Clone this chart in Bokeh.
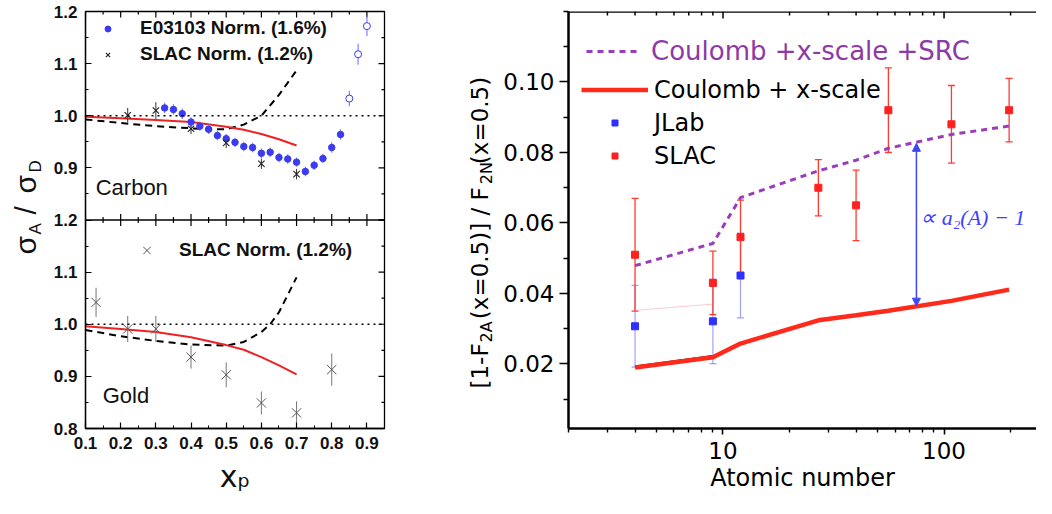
from math import pi
from bokeh.plotting import figure
from bokeh.layouts import row
from bokeh.models import (Range1d, FixedTicker, NumeralTickFormatter,
                          Span, Legend, LegendItem, Whisker, TeeHead, Arrow, NormalHead,
                          ColumnDataSource)
from bokeh.embed import file_html
from bokeh.resources import INLINE
from bokeh.core.properties import value

# ---------------- data: left panels (sigma_A / sigma_D vs x_p) ----------------
xp_major = [0.1, 0.2, 0.3, 0.4, 0.5, 0.6, 0.7, 0.8, 0.9]
xp_minor = [0.15, 0.25, 0.35, 0.45, 0.55, 0.65, 0.75, 0.85]
ratio_major = [0.8, 0.9, 1.0, 1.1, 1.2]
ratio_minor = [0.85, 0.95, 1.05, 1.15]
ratio_labels = ["0.8", "0.9", "1.0", "1.1", "1.2"]

carbon_e03103_x = [0.325, 0.35, 0.375, 0.40, 0.425, 0.45, 0.475, 0.50, 0.525, 0.55, 0.575,
                   0.60, 0.625, 0.65, 0.675, 0.70, 0.725, 0.75, 0.775, 0.80, 0.825]
carbon_e03103_y = [1.015, 1.012, 1.004, 0.988, 0.980, 0.974, 0.962, 0.956, 0.949, 0.941, 0.939,
                   0.928, 0.930, 0.920, 0.917, 0.911, 0.893, 0.905, 0.918, 0.939, 0.964]
carbon_e03103_err = [0.010, 0.010, 0.010, 0.009, 0.009, 0.009, 0.009, 0.009, 0.009, 0.009, 0.009,
                     0.009, 0.009, 0.009, 0.009, 0.009, 0.009, 0.009, 0.009, 0.010, 0.010]
carbon_e03103_open_x = [0.85, 0.875, 0.90]
carbon_e03103_open_y = [1.033, 1.118, 1.172]
carbon_e03103_open_err = [0.015, 0.020, 0.019]
carbon_slac_x = [0.22, 0.30, 0.40, 0.50, 0.60, 0.70]
carbon_slac_y = [1.001, 1.010, 0.975, 0.948, 0.908, 0.888]
carbon_slac_err = [0.014, 0.016, 0.010, 0.010, 0.010, 0.010]
carbon_curve_x = [0.1, 0.2, 0.3, 0.4, 0.5, 0.55, 0.6, 0.65, 0.7]
carbon_curve_y = [0.998, 0.995, 0.992, 0.988, 0.979, 0.973, 0.965, 0.955, 0.943]
carbon_dash_x = [0.1, 0.2, 0.3, 0.4, 0.45, 0.5, 0.55, 0.6, 0.65, 0.7]
carbon_dash_y = [0.993, 0.986, 0.980, 0.976, 0.974, 0.974, 0.983, 1.000, 1.040, 1.087]

gold_slac_x = [0.13, 0.22, 0.30, 0.40, 0.50, 0.60, 0.70, 0.80]
gold_slac_y = [1.042, 0.991, 0.991, 0.937, 0.903, 0.849, 0.830, 0.913]
gold_slac_err = [0.028, 0.025, 0.025, 0.022, 0.024, 0.022, 0.022, 0.031]
gold_curve_x = [0.1, 0.2, 0.3, 0.4, 0.5, 0.55, 0.6, 0.65, 0.7]
gold_curve_y = [0.996, 0.991, 0.985, 0.975, 0.960, 0.951, 0.937, 0.921, 0.904]
gold_dash_x = [0.1, 0.2, 0.3, 0.4, 0.5, 0.55, 0.6, 0.625, 0.65, 0.7]
gold_dash_y = [0.989, 0.977, 0.968, 0.961, 0.959, 0.966, 0.985, 1.000, 1.023, 1.090]

# ---------------- data: right panel ----------------
atomic_major = [10, 100]
atomic_minor = [2, 3, 4, 5, 6, 7, 8, 9, 20, 30, 40, 50, 60, 70, 80, 90, 200]
f2_major = [0.02, 0.04, 0.06, 0.08, 0.10]
f2_minor = [0.01, 0.03, 0.05, 0.07, 0.09, 0.11, 0.12]

slac_A = [4, 9, 12, 27, 40, 56, 108, 197]
slac_F = [0.051, 0.043, 0.056, 0.070, 0.065, 0.092, 0.088, 0.092]
slac_err = [0.016, 0.009, 0.0105, 0.008, 0.010, 0.012, 0.011, 0.009]
jlab_A = [4, 9, 12]
jlab_F = [0.0307, 0.0321, 0.0451]
jlab_err = [0.0116, 0.012, 0.012]
src_A = [4, 9, 12, 27, 40, 56, 108, 197]
src_F = [0.0479, 0.0542, 0.0672, 0.0748, 0.0778, 0.0812, 0.0851, 0.0875]
coul_A = [4, 9, 12, 27, 40, 56, 108, 197]
coul_F = [0.0190, 0.0219, 0.0258, 0.0324, 0.0338, 0.0351, 0.0379, 0.0411]
black_A = [4, 9]
black_F = [0.0194, 0.0224]
pink_A = [4, 9]
pink_F = [0.0352, 0.0370]
arrow_A = 75
arrow_lo = 0.0364
arrow_hi = 0.0826

BLUE = "#3b3bf0"
RED = "#ee2222"
RRED = "#ff2a1a"
PURPLE = "#9a3db8"
ARROW = "#3f48f0"

# layout constants (pixels)
TOP_B = 11
BOT_B = 70
PAGE_H = 498
LEFT_W = 340
LEFT_BL, LEFT_BR = 34, 6
LF_FRAME = PAGE_H - TOP_B - BOT_B
XP_RANGE = (0.1, 0.95)
GOLD_RANGE = (0.8, 1.6)     # gold panel occupies 0.8-1.2 (lower half)
CARBON_RANGE = (0.4, 1.2)   # carbon panel occupies 0.8-1.2 (upper half)


def label_fig(w, h, top=0, bottom=0, xr=None, yr=None):
    f = figure(width=w, height=h, x_range=Range1d(*xr), y_range=Range1d(*yr),
               toolbar_location=None, output_backend="svg",
               min_border_top=top, min_border_bottom=bottom,
               min_border_left=0, min_border_right=0,
               x_axis_location=None, y_axis_location=None)
    f.outline_line_color = None
    f.grid.visible = False
    return f


def style_axis(ax):
    ax.axis_line_width = 1.3
    ax.axis_line_color = "black"
    ax.major_tick_in = 6
    ax.major_tick_out = 0
    ax.minor_tick_in = 3
    ax.minor_tick_out = 0
    ax.major_tick_line_width = 1.2
    ax.minor_tick_line_width = 1.0
    ax.major_label_text_font = "Liberation Sans"
    ax.major_label_text_font_style = "bold"
    ax.major_label_text_font_size = "17px"
    ax.major_label_text_color = "#111111"
    ax.major_label_standoff = 8


# ---------------- left: Carbon (upper) + Gold (lower) sharing one frame ----------------
lf = figure(width=LEFT_W, height=PAGE_H, x_range=Range1d(*XP_RANGE), y_range=Range1d(*GOLD_RANGE),
            toolbar_location=None, output_backend="svg",
            min_border_left=LEFT_BL, min_border_right=LEFT_BR,
            min_border_top=TOP_B, min_border_bottom=BOT_B)
lf.extra_y_ranges = {"carbon": Range1d(*CARBON_RANGE)}
lf.outline_line_color = "black"
lf.outline_line_width = 1.3
lf.grid.visible = False
lf.xaxis.ticker = FixedTicker(ticks=xp_major, minor_ticks=xp_minor)
lf.xaxis.formatter = NumeralTickFormatter(format="0.0")
style_axis(lf.xaxis[0])
lf.xaxis.axis_label = "xₚ"
lf.xaxis.axis_label_text_font = "DejaVu Sans"
lf.xaxis.axis_label_text_font_size = "30px"
lf.xaxis.axis_label_text_font_style = "normal"
lf.xaxis.axis_label_text_color = "#111111"
lf.xaxis.axis_label_standoff = 7
# one left axis: gold ticks 0.8-1.2, carbon ticks (0.9-1.2) sit 0.4 higher on the gold scale
shift = GOLD_RANGE[1] - CARBON_RANGE[1]
carbon_on_gold = [round(t + shift, 6) for t in ratio_major[1:]]
carbon_minor_on_gold = [round(t + shift, 6) for t in ratio_minor]
lf.yaxis.ticker = FixedTicker(ticks=ratio_major + carbon_on_gold,
                              minor_ticks=ratio_minor + carbon_minor_on_gold)
lf.yaxis.major_label_overrides = dict(
    list(zip(ratio_major, ratio_labels)) + list(zip(carbon_on_gold, ratio_labels[1:])))
style_axis(lf.yaxis[0])

# panel boundary and inner ticks
lf.add_layout(Span(location=GOLD_RANGE[0] + (GOLD_RANGE[1] - GOLD_RANGE[0]) / 2, dimension="width",
                   line_color="black", line_width=1.3))
ypx = (GOLD_RANGE[1] - GOLD_RANGE[0]) / LF_FRAME
xpx = (XP_RANGE[1] - XP_RANGE[0]) / (LEFT_W - LEFT_BL - LEFT_BR)
for rng, name in ((GOLD_RANGE, "default"), (CARBON_RANGE, "carbon")):
    for ticks, n in ((xp_major, 6), (xp_minor, 3)):
        lf.segment(x0=ticks, x1=ticks, y0=[1.2] * len(ticks), y1=[1.2 - n * ypx] * len(ticks),
                   line_color="black", line_width=1.2, y_range_name=name)
        if name == "carbon":
            lf.segment(x0=ticks, x1=ticks, y0=[0.8] * len(ticks), y1=[0.8 + n * ypx] * len(ticks),
                       line_color="black", line_width=1.2, y_range_name=name)
    for ticks, n in ((ratio_major, 6), (ratio_minor, 3)):
        lf.segment(x0=[XP_RANGE[1]] * len(ticks), x1=[XP_RANGE[1] - n * xpx] * len(ticks),
                   y0=ticks, y1=ticks, line_color="black", line_width=1.2, y_range_name=name)
    lf.add_layout(Span(location=1.0, dimension="width", line_color="black",
                       line_dash="2 4", line_width=1.3, y_range_name=name))

# Carbon
C = "carbon"
lf.line(carbon_dash_x, carbon_dash_y, line_color="black", line_width=2, line_dash="7 5", y_range_name=C)
lf.line(carbon_curve_x, carbon_curve_y, line_color=RED, line_width=2, y_range_name=C)
lf.segment(x0=carbon_e03103_x, x1=carbon_e03103_x,
           y0=[y - e for y, e in zip(carbon_e03103_y, carbon_e03103_err)],
           y1=[y + e for y, e in zip(carbon_e03103_y, carbon_e03103_err)],
           line_color="#8080ff", line_width=1.2, y_range_name=C)
lf.segment(x0=carbon_e03103_open_x, x1=carbon_e03103_open_x,
           y0=[y - e for y, e in zip(carbon_e03103_open_y, carbon_e03103_open_err)],
           y1=[y + e for y, e in zip(carbon_e03103_open_y, carbon_e03103_open_err)],
           line_color="#8080ff", line_width=1.2, y_range_name=C)
lf.segment(x0=carbon_slac_x, x1=carbon_slac_x,
           y0=[y - e for y, e in zip(carbon_slac_y, carbon_slac_err)],
           y1=[y + e for y, e in zip(carbon_slac_y, carbon_slac_err)],
           line_color="#333333", line_width=1.0, y_range_name=C)
r_ce = lf.scatter(carbon_e03103_x, carbon_e03103_y, marker="circle", size=6.5,
                  fill_color=BLUE, line_color=BLUE, y_range_name=C)
lf.scatter(carbon_e03103_open_x, carbon_e03103_open_y, marker="circle", size=7,
           fill_color="white", line_color=BLUE, line_width=1, y_range_name=C)
r_cs = lf.scatter(carbon_slac_x, carbon_slac_y, marker="x", size=9,
                  line_color="#222222", line_width=1.1, y_range_name=C)
lf.text(x=[0.129], y=[0.862], text=["Carbon"], text_font=value("Liberation Sans"),
        text_font_size="22px", text_baseline="middle", text_align="left", text_color="#111111",
        y_range_name=C)

# Gold
lf.line(gold_dash_x, gold_dash_y, line_color="black", line_width=2, line_dash="7 5")
lf.line(gold_curve_x, gold_curve_y, line_color=RED, line_width=2)
lf.segment(x0=gold_slac_x, x1=gold_slac_x,
           y0=[y - e for y, e in zip(gold_slac_y, gold_slac_err)],
           y1=[y + e for y, e in zip(gold_slac_y, gold_slac_err)],
           line_color="#777777", line_width=1.0)
r_gs = lf.scatter(gold_slac_x, gold_slac_y, marker="x", size=13,
                  line_color="#555555", line_width=1.0)
lf.text(x=[0.149], y=[0.863], text=["Gold"], text_font=value("Liberation Sans"),
        text_font_size="22px", text_baseline="middle", text_align="left", text_color="#111111")

leg_c = Legend(items=[LegendItem(label="E03103 Norm. (1.6%)", renderers=[r_ce]),
                      LegendItem(label="SLAC Norm. (1.2%)", renderers=[r_cs])],
               location=(7, 361), glyph_width=31, glyph_height=15, label_height=26,
               label_standoff=17, spacing=0, padding=0, margin=0,
               border_line_color=None, background_fill_alpha=0,
               label_text_font="Liberation Sans", label_text_font_style="bold",
               label_text_font_size="19px", label_text_color="#111111")
lf.add_layout(leg_c)
leg_g = Legend(items=[LegendItem(label="SLAC Norm. (1.2%)", renderers=[r_gs])],
               location=(46, 165), glyph_width=31, glyph_height=26, label_height=26,
               label_standoff=17, spacing=0, padding=0, margin=0,
               border_line_color=None, background_fill_alpha=0,
               label_text_font="Liberation Sans", label_text_font_style="bold",
               label_text_font_size="19px", label_text_color="#111111")
lf.add_layout(leg_g)

# ---------------- sigma_A / sigma_D label (data y = 498 - page y) ----------------
pl = label_fig(50, PAGE_H, top=TOP_B, bottom=BOT_B, xr=(0, 50), yr=(BOT_B, PAGE_H - TOP_B))
pl.text(x=[25, 25, 25], y=[244, 284, 305], text=["σ", "/", "σ"], angle=pi / 2,
        text_font=value("Liberation Sans"), text_font_size="30px",
        text_baseline="alphabetic", text_align="left", text_color="#111111")
pl.text(x=[35, 35], y=[264, 326], text=["A", "D"], angle=pi / 2,
        text_font=value("Liberation Sans"), text_font_size="17px",
        text_baseline="alphabetic", text_align="left", text_color="#111111")

# ---------------- right y label (local x = page x - 390) ----------------
pr_lab = label_fig(110, PAGE_H, top=TOP_B, bottom=BOT_B, xr=(0, 110), yr=(BOT_B, PAGE_H - TOP_B))
pr_lab.text(x=[89.5, 89.5, 89.5], y=[110, 179.3, 334.3],
            text=["[1-F", "(x=0.5)] / F", "(x=0.5)"], angle=pi / 2,
            text_font=value("DejaVu Sans"), text_font_size="23px",
            text_baseline="alphabetic", text_align="left", text_color="black")
pr_lab.text(x=[95.5, 95.5], y=[156, 314.3], text=["2A", "2N"], angle=pi / 2,
            text_font=value("DejaVu Sans"), text_font_size="16px",
            text_baseline="alphabetic", text_align="left", text_color="black")

# ---------------- right panel ----------------
RX = (2, 262)
RY = (0.0017, 0.12)
rp = figure(width=536, height=PAGE_H, x_axis_type="log", x_range=Range1d(*RX),
            y_range=Range1d(*RY), toolbar_location=None, output_backend="svg",
            min_border_left=68, min_border_right=0, min_border_top=TOP_B, min_border_bottom=BOT_B)
rp.outline_line_color = None
rp.grid.visible = False
rp.xaxis.ticker = FixedTicker(ticks=atomic_major, minor_ticks=atomic_minor)
rp.yaxis.ticker = FixedTicker(ticks=f2_major, minor_ticks=f2_minor)
rp.xaxis.formatter = NumeralTickFormatter(format="0")
rp.yaxis.formatter = NumeralTickFormatter(format="0.00")
for ax in (rp.xaxis[0], rp.yaxis[0]):
    ax.axis_line_width = 2.5
    ax.axis_line_color = "black"
    ax.major_tick_line_width = 1.6
    ax.minor_tick_line_width = 1.4
    ax.major_tick_in = 0
    ax.minor_tick_in = 0
    ax.major_label_text_font = "DejaVu Sans"
    ax.major_label_text_font_size = "23px"
    ax.major_label_text_color = "black"
rp.yaxis.major_tick_out = 9
rp.yaxis.minor_tick_out = 5
rp.yaxis.major_label_standoff = 5
rp.xaxis.major_tick_out = 6
rp.xaxis.minor_tick_out = 4
rp.xaxis.major_label_standoff = 7
rp.xaxis.axis_label = "Atomic number"
rp.xaxis.axis_label_text_font = "DejaVu Sans"
rp.xaxis.axis_label_text_font_size = "24px"
rp.xaxis.axis_label_text_font_style = "normal"
rp.xaxis.axis_label_text_color = "black"
rp.xaxis.axis_label_standoff = 2

r_frame_h = PAGE_H - TOP_B - BOT_B
rpx = (RY[1] - RY[0]) / r_frame_h
rp.add_layout(Span(location=RY[1], dimension="width", line_color="black", line_width=2.5))
for ticks, n in ((atomic_major, 7), (atomic_minor, 4)):
    rp.segment(x0=ticks, x1=ticks, y0=[RY[1]] * len(ticks), y1=[RY[1] - n * rpx] * len(ticks),
               line_color="black", line_width=1.5)

rp.line(pink_A, pink_F, line_color="#f08aa0", line_alpha=0.45, line_width=1)
rp.line(black_A, black_F, line_color="black", line_width=1.2)
r_coul = rp.line(coul_A, coul_F, line_color=RRED, line_width=4.5)
r_src = rp.line(src_A, src_F, line_color=PURPLE, line_width=3, line_dash="6 5")

jsrc = ColumnDataSource(dict(base=jlab_A,
                             lower=[f - e for f, e in zip(jlab_F, jlab_err)],
                             upper=[f + e for f, e in zip(jlab_F, jlab_err)]))
rp.add_layout(Whisker(source=jsrc, base="base", lower="lower", upper="upper",
                      line_color="#7777ff", line_alpha=0.7, line_width=1.2,
                      upper_head=TeeHead(size=7, line_color="#7777ff", line_alpha=0.7, line_width=1.2),
                      lower_head=TeeHead(size=7, line_color="#7777ff", line_alpha=0.7, line_width=1.2)))
ssrc = ColumnDataSource(dict(base=slac_A,
                             lower=[f - e for f, e in zip(slac_F, slac_err)],
                             upper=[f + e for f, e in zip(slac_F, slac_err)]))
rp.add_layout(Whisker(source=ssrc, base="base", lower="lower", upper="upper",
                      line_color="#ff3b30", line_width=1.3,
                      upper_head=TeeHead(size=7, line_color="#ff3b30", line_width=1.3),
                      lower_head=TeeHead(size=7, line_color="#ff3b30", line_width=1.3)))
r_jlab = rp.scatter(jlab_A, jlab_F, marker="square", size=7, fill_color="#2f2fff", line_color="#2f2fff")
r_slac = rp.scatter(slac_A, slac_F, marker="square", size=7, fill_color="#ff2020", line_color="#ff2020")

rp.add_layout(Arrow(start=NormalHead(size=8, fill_color=ARROW, line_color=ARROW),
                    end=NormalHead(size=8, fill_color=ARROW, line_color=ARROW),
                    x_start=arrow_A, y_start=arrow_lo, x_end=arrow_A, y_end=arrow_hi,
                    line_color=ARROW, line_width=1.5))
rp.text(x=[78], y=[0.0616], text=["∝ a₂(A) − 1"], text_font=value("Liberation Serif"),
        text_font_style="italic", text_font_size="22px", text_color="#4040ff",
        text_baseline="middle", text_align="left")

leg_a = Legend(items=[LegendItem(label="Coulomb +x-scale +SRC", renderers=[r_src])],
               location=(18, 362), glyph_width=53, glyph_height=30, label_height=30,
               label_standoff=12, spacing=0, padding=0, margin=0,
               border_line_color=None, background_fill_alpha=0,
               label_text_font="DejaVu Sans", label_text_font_size="26px",
               label_text_color="#8e3aa6")
rp.add_layout(leg_a)
leg_b = Legend(items=[LegendItem(label="Coulomb + x-scale", renderers=[r_coul]),
                      LegendItem(label="JLab", renderers=[r_jlab]),
                      LegendItem(label="SLAC", renderers=[r_slac])],
               location=(13, 256), glyph_width=67, glyph_height=15, label_height=33,
               label_standoff=6, spacing=0, padding=0, margin=0,
               border_line_color=None, background_fill_alpha=0,
               label_text_font="DejaVu Sans", label_text_font_size="24px",
               label_text_color="black")
rp.add_layout(leg_b)

layout = row(pl, lf, pr_lab, rp)
open("out.html", "w").write(file_html(layout, INLINE))
